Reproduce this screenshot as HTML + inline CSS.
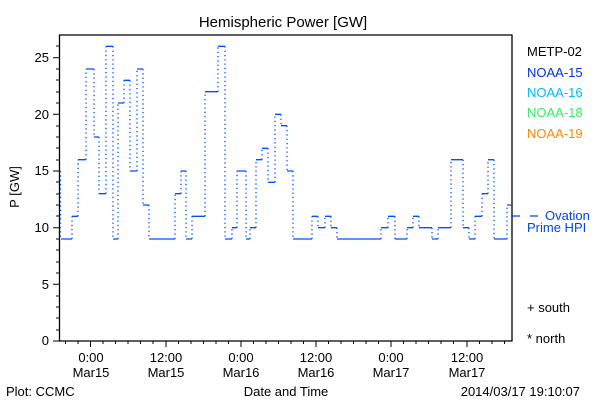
<!DOCTYPE html>
<html><head><style>
body{margin:0;background:#fff;}
svg{display:block;font-family:"Liberation Sans",sans-serif;}
</style></head><body>
<svg width="600" height="400" xmlns="http://www.w3.org/2000/svg">
<rect width="600" height="400" fill="#fff"/>
<text x="283" y="27" font-size="15" text-anchor="middle">Hemispheric Power [GW]</text>
<text transform="translate(19,187) rotate(-90)" font-size="13" text-anchor="middle">P [GW]</text>
<g stroke="#000" stroke-width="1.3" fill="none">
<path d="M59.5,35 H512 V341 H59.5 Z"/>
</g>
<g stroke="#000" stroke-width="1">
<path d="M53,341H59M53,284.3H59M53,227.7H59M53,171H59M53,114.3H59M53,57.7H59
M56,330H59M56,318H59M56,307H59M56,296H59M56,273H59M56,262H59M56,250H59M56,239H59M56,216H59M56,205H59M56,194H59M56,182H59M56,160H59M56,148H59M56,137H59M56,126H59M56,103H59M56,92H59M56,80H59M56,69H59M56,46H59"/>
<path d="M90.5,341V347M166,341V347M241,341V347M316,341V347M391,341V347M467,341V347"/>
<path d="M65.5,341V344M78,341V344M103,341V344M115.5,341V344M128,341V344M140.5,341V344M153,341V344M178.5,341V344M191,341V344M203.5,341V344M216,341V344M228.5,341V344M253.5,341V344M266,341V344M278.5,341V344M291,341V344M303.5,341V344M328.5,341V344M341,341V344M353.5,341V344M366,341V344M378.5,341V344M403.5,341V344M416,341V344M428.5,341V344M441,341V344M453.5,341V344M479.5,341V344M492,341V344M504.5,341V344"/>
</g>
<g font-size="13" text-anchor="end">
<text x="49" y="345">0</text><text x="49" y="289">5</text><text x="49" y="232">10</text>
<text x="49" y="175">15</text><text x="49" y="119">20</text><text x="49" y="62">25</text>
</g>
<g font-size="13" text-anchor="middle">
<text x="91" y="362">0:00</text><text x="91" y="377">Mar15</text>
<text x="166" y="362">12:00</text><text x="166" y="377">Mar15</text>
<text x="241" y="362">0:00</text><text x="241" y="377">Mar16</text>
<text x="316" y="362">12:00</text><text x="316" y="377">Mar16</text>
<text x="391" y="362">0:00</text><text x="391" y="377">Mar17</text>
<text x="467" y="362">12:00</text><text x="467" y="377">Mar17</text>
<text x="286" y="396">Date and Time</text>
</g>
<text x="6" y="396" font-size="13">Plot: CCMC</text>
<text x="580" y="396" font-size="13" text-anchor="end">2014/03/17 19:10:07</text>
<g font-size="13">
<text x="527" y="56" fill="#000">METP-02</text>
<text x="527" y="77" fill="#0033dd">NOAA-15</text>
<text x="527" y="97" fill="#00bbff">NOAA-16</text>
<text x="527" y="117" fill="#33ee66">NOAA-18</text>
<text x="527" y="138" fill="#ff8800">NOAA-19</text>
<text x="545" y="220" fill="#0044ee">Ovation</text>
<text x="527" y="232" fill="#0044ee">Prime HPI</text>
<text x="527" y="312" fill="#000">+ south</text>
<text x="527" y="343" fill="#000">* north</text>
</g>
<path d="M512,216H520M530,216H538" stroke="#0044ee" stroke-width="1.2"/>
<path fill="none" stroke="#0050ff" stroke-width="1.3" d="M61,239H72 M72,216.3H78 M78,159.7H86 M86,69H94 M94,137H99 M99,193.7H106 M106,46.3H113 M113,239H118 M118,103H124 M124,80.3H130 M130,171H137 M137,69H143 M143,205H149 M149,239H175 M175,193.7H181 M181,171H186 M186,239H192 M192,216.3H205 M205,91.7H218 M218,46.3H225 M225,239H232 M232,227.7H237 M237,171H246 M246,239H250 M250,227.7H256 M256,159.7H262 M262,148.3H268 M268,182.3H275 M275,114.3H281 M281,125.7H287 M287,171H293 M293,239H312 M312,216.3H318 M318,227.7H325 M325,216.3H331 M331,227.7H337 M337,239H381 M381,227.7H388 M388,216.3H395 M395,239H407 M407,227.7H413 M413,216.3H419 M419,227.7H432 M432,239H438 M438,227.7H451 M451,159.7H463 M463,227.7H469 M469,239H475 M475,216.3H482 M482,193.7H488 M488,159.7H494 M494,239H507 M507,205H512"/>
<path fill="none" stroke="#0050ff" stroke-width="1.3" stroke-dasharray="1.3 3" d="M60.5,171V239 M72,239V216.3 M78,216.3V159.7 M86,159.7V69 M94,69V137 M99,137V193.7 M106,193.7V46.3 M113,46.3V239 M118,239V103 M124,103V80.3 M130,80.3V171 M137,171V69 M143,69V205 M149,205V239 M175,239V193.7 M181,193.7V171 M186,171V239 M192,239V216.3 M205,216.3V91.7 M218,91.7V46.3 M225,46.3V239 M232,239V227.7 M237,227.7V171 M246,171V239 M250,239V227.7 M256,227.7V159.7 M262,159.7V148.3 M268,148.3V182.3 M275,182.3V114.3 M281,114.3V125.7 M287,125.7V171 M293,171V239 M312,239V216.3 M318,216.3V227.7 M325,227.7V216.3 M331,216.3V227.7 M337,227.7V239 M381,239V227.7 M388,227.7V216.3 M395,216.3V239 M407,239V227.7 M413,227.7V216.3 M419,216.3V227.7 M432,227.7V239 M438,239V227.7 M451,227.7V159.7 M463,159.7V227.7 M469,227.7V239 M475,239V216.3 M482,216.3V193.7 M488,193.7V159.7 M494,159.7V239 M507,239V205"/>
</svg>
</body></html>
